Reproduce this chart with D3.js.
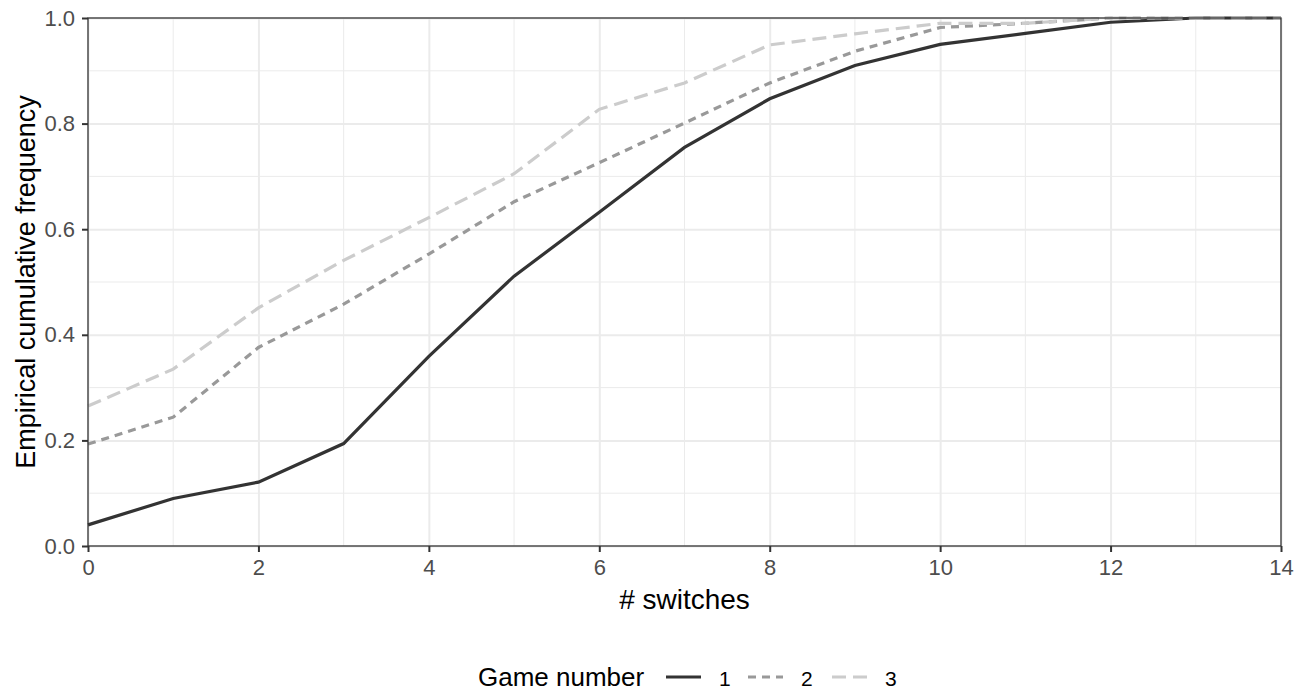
<!DOCTYPE html>
<html>
<head>
<meta charset="utf-8">
<script src="https://cdn.jsdelivr.net/npm/d3@7"></script>
<style>
  body { margin: 0; background: #fff; }
  svg text { font-family: "Liberation Sans", Arial, sans-serif; }
</style>
</head>
<body>
<div id="chart"></div>
<script>
const width = 1307;
const height = 691;
const marginTop = 18;
const marginRight = 26;
const marginBottom = 145;
const marginLeft = 88;

// data
const switches = [0, 1, 2, 3, 4, 5, 6, 7, 8, 9, 10, 11, 12, 13, 14];
const game1 = [0.040, 0.090, 0.121, 0.194, 0.359, 0.511, 0.632, 0.755, 0.847, 0.910, 0.950, 0.971, 0.992, 1.0, 1.0];
const game2 = [0.193, 0.244, 0.376, 0.458, 0.553, 0.652, 0.726, 0.801, 0.877, 0.937, 0.982, 0.990, 1.0, 1.0, 1.0];
const game3 = [0.265, 0.335, 0.451, 0.541, 0.622, 0.705, 0.827, 0.877, 0.949, 0.970, 0.990, 0.990, 1.0, 1.0, 1.0];
const gameNames = ["1", "2", "3"];
const xTicks = [0, 2, 4, 6, 8, 10, 12, 14];
const yTicks = [0, 0.2, 0.4, 0.6, 0.8, 1.0];

const series = [
    { name: gameNames[0], values: game1, color: "#333333", dash: null },
    { name: gameNames[1], values: game2, color: "#999999", dash: "8,6" },
    { name: gameNames[2], values: game3, color: "#cccccc", dash: "14,7" }
];

const svg = d3.select("#chart")
    .append("svg")
    .attr("width", width)
    .attr("height", height)
    .attr("viewBox", [0, 0, width, height]);

const x = d3.scaleLinear([0, 14], [marginLeft, width - marginRight]);
const y = d3.scaleLinear([0, 1], [height - marginBottom, marginTop]);

// grid (minor then major)
const grid = svg.append("g");
grid.selectAll(".xminor")
    .data(d3.range(1, 14, 2))
    .join("line")
    .attr("x1", d => x(d)).attr("x2", d => x(d))
    .attr("y1", y(0)).attr("y2", y(1))
    .attr("stroke", "#ebebeb").attr("stroke-width", 1);
grid.selectAll(".yminor")
    .data(d3.range(0.1, 1, 0.2))
    .join("line")
    .attr("y1", d => y(d)).attr("y2", d => y(d))
    .attr("x1", x(0)).attr("x2", x(14))
    .attr("stroke", "#ebebeb").attr("stroke-width", 1);

svg.append("g")
    .attr("transform", `translate(0,${y(0)})`)
    .call(d3.axisBottom(x).tickValues(xTicks).tickSize(-(y(0) - y(1))).tickFormat(""))
    .call(g => g.select(".domain").remove())
    .call(g => g.selectAll("line").attr("stroke", "#ebebeb").attr("stroke-width", 2));

svg.append("g")
    .attr("transform", `translate(${x(0)},0)`)
    .call(d3.axisLeft(y).tickValues(yTicks).tickSize(-(x(14) - x(0))).tickFormat(""))
    .call(g => g.select(".domain").remove())
    .call(g => g.selectAll("line").attr("stroke", "#ebebeb").attr("stroke-width", 2));

// lines
const line = d3.line()
    .x((d, i) => x(switches[i]))
    .y(d => y(d));

series.forEach(s => {
    svg.append("path")
        .datum(s.values)
        .attr("fill", "none")
        .attr("stroke", s.color)
        .attr("stroke-width", 3.2)
        .attr("stroke-dasharray", s.dash)
        .attr("d", line);
});

// panel border
svg.append("rect")
    .attr("x", x(0)).attr("y", y(1))
    .attr("width", x(14) - x(0)).attr("height", y(0) - y(1))
    .attr("fill", "none")
    .attr("stroke", "#333333")
    .attr("stroke-width", 1.3);

// axes
svg.append("g")
    .attr("transform", `translate(0,${y(0)})`)
    .call(d3.axisBottom(x).tickValues(xTicks).tickSize(6).tickPadding(7))
    .call(g => g.select(".domain").remove())
    .call(g => g.selectAll("line").attr("stroke", "#333333").attr("stroke-width", 2))
    .call(g => g.selectAll("text").attr("fill", "#4d4d4d").style("font-size", "22px"));

svg.append("g")
    .attr("transform", `translate(${x(0)},0)`)
    .call(d3.axisLeft(y).tickValues(yTicks).tickSize(6).tickPadding(7).tickFormat(d3.format(".1f")))
    .call(g => g.select(".domain").remove())
    .call(g => g.selectAll("line").attr("stroke", "#333333").attr("stroke-width", 2))
    .call(g => g.selectAll("text").attr("fill", "#4d4d4d").style("font-size", "22px"));

// axis titles
svg.append("text")
    .attr("x", (x(0) + x(14)) / 2)
    .attr("y", 609)
    .attr("text-anchor", "middle")
    .attr("fill", "#000")
    .style("font-size", "28px")
    .text("# switches");

svg.append("text")
    .attr("transform", `translate(35,${(y(0) + y(1)) / 2}) rotate(-90)`)
    .attr("text-anchor", "middle")
    .attr("fill", "#000")
    .style("font-size", "27px")
    .text("Empirical cumulative frequency");

// legend
const legend = svg.append("g")
    .attr("transform", `translate(0,686)`);

legend.append("text")
    .attr("x", 478).attr("y", 0)
    .attr("fill", "#000")
    .style("font-size", "26px")
    .text("Game number");

const keyX = [666, 748, 832];
series.forEach((s, i) => {
    const item = legend.append("g").attr("transform", `translate(${keyX[i]},0)`);
    item.append("line")
        .attr("x1", 0).attr("x2", 35)
        .attr("y1", -9).attr("y2", -9)
        .attr("stroke", s.color)
        .attr("stroke-width", 3.2)
        .attr("stroke-dasharray", s.dash);
    item.append("text")
        .attr("x", 53).attr("y", 0)
        .attr("fill", "#000")
        .style("font-size", "21px")
        .text(s.name);
});
</script>
</body>
</html>
